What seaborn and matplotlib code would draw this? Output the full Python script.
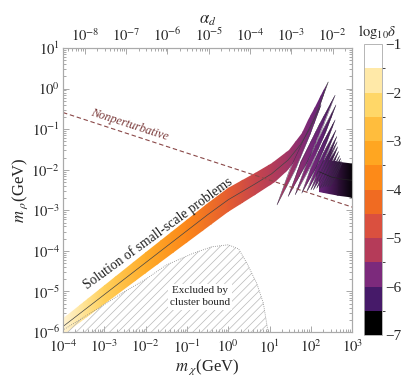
import numpy as np
import matplotlib
matplotlib.use('Agg')
import matplotlib.pyplot as plt
import seaborn as sns
from matplotlib.colors import LinearSegmentedColormap, ListedColormap, BoundaryNorm, Normalize
from matplotlib.patches import Polygon
from matplotlib.cm import ScalarMappable

# legend steps of log10(delta), from -7 up to -1
delta_levels = [-7, -6.5, -6, -5.5, -5, -4.5, -4, -3.5, -3, -2.5, -2, -1.5, -1]
delta_colors = ['#000000', '#461a69', '#7c2a7c', '#b53b59', '#da503f', '#f06b22',
                '#fd8a18', '#ffa621', '#ffbd3d', '#ffd768', '#ffe9a8', '#ffffff']

# log10(delta) read along the band, as function of log10 m_chi
delta_x = [-4.3, -4.0, -3.5, -3.0, -2.0, -1.0, 0.0, 0.65, 1.4, 2.0, 2.3, 3.0, 3.2]
delta_v = [-1.4, -1.5, -1.9, -2.4, -3.1, -3.8, -4.5, -5.0, -5.4, -5.8, -6.0, -6.7, -6.8]

# main band (log10 m_chi, log10 m_rho): upper edge up to the big spike tip
band_up_x = [-4.3, -2.0, -0.5, 0.0, 0.65, 1.05, 1.46, 1.78, 1.94, 2.10, 2.26, 2.42]
band_up_y = [-5.91, -4.03, -2.83, -2.45, -2.07, -1.84, -1.51, -1.10, -0.77, -0.45, -0.12, 0.16]
# ... and back down along the lower edge
band_lo_x = [2.42, 2.30, 2.17, 1.93, 1.69, 1.45, 1.13, 0.65, 0.0, -2.0, -4.3]
band_lo_y = [0.16, -0.20, -0.60, -1.19, -1.68, -2.00, -2.30, -2.62, -3.04, -4.55, -6.29]

# central curve of the band
mid_x = [-4.3, -2.0, -0.5, 0.0, 0.65, 1.05, 1.45, 1.75, 2.0, 2.2, 2.42]
mid_y = [-6.1, -4.29, -3.11, -2.74, -2.35, -2.10, -1.76, -1.38, -0.95, -0.45, 0.16]

# resonance spikes: lower tip, upper tip, half width
spike_lo_x = [1.18, 1.45, 1.62, 1.78, 1.90, 2.00, 2.06, 2.14, 2.22, 2.28, 2.34, 2.40, 2.46]
spike_lo_y = [-2.87, -2.66, -2.62, -2.58, -2.54, -2.50, -2.50, -2.46, -2.46, -2.44, -2.42, -2.42, -2.42]
spike_hi_x = [2.25, 2.59, 2.61, 2.59, 2.61, 2.63, 2.64, 2.65, 2.67, 2.70, 2.72, 2.74, 2.76]
spike_hi_y = [-0.40, -0.16, -0.40, -0.77, -1.02, -1.18, -1.31, -1.43, -1.55, -1.65, -1.72, -1.78, -1.82]
spike_w = [0.07, 0.08, 0.07, 0.06, 0.055, 0.05, 0.045, 0.04, 0.035, 0.03, 0.03, 0.025, 0.025]

# heavy dark block at large m_chi
blk_x = [2.2, 2.45, 2.7, 2.9, 3.1, 3.1, 2.9, 2.7, 2.45, 2.2]
blk_y = [-1.78, -1.76, -1.80, -1.84, -1.87, -2.72, -2.68, -2.64, -2.60, -2.56]
blk_mid_x = [2.2, 2.5, 2.8, 3.1]
blk_mid_y = [-2.05, -2.18, -2.24, -2.27]

# cluster bound (excluded below)
clu_x = [-4.3, -4.0, -3.2, -2.5, -2.0, -1.5, -0.85, -0.4, 0.0, 0.25, 0.45, 0.69, 0.85, 0.97, 0.98, -4.3]
clu_y = [-6.17, -5.95, -5.45, -5.0, -4.7, -4.35, -4.06, -3.9, -3.85, -3.95, -4.3, -4.8, -5.29, -6.03, -6.3, -6.3]

# nonperturbative line
npt_x = [-4.0, 3.0]
npt_y = [-0.59, -2.92]

x_exps = list(range(-4, 4))
y_exps = list(range(-6, 2))
alpha_exps = list(range(-8, -1))
alpha_shift = 4.53   # log10 m_chi where alpha_d = 1 on the top axis

sns.set_style('ticks')
plt.rcParams['font.family'] = ['Liberation Serif', 'DejaVu Serif']
plt.rcParams['mathtext.fontset'] = 'stix'
plt.rcParams['hatch.linewidth'] = 0.5

fig = plt.figure(figsize=(4.09, 3.87), dpi=100)
ax = fig.add_axes([0.154, 0.142, 0.707, 0.734])

pos = [0.0] + [(l + 0.25 + 7) / 6 for l in delta_levels[:-1]] + [1.0]
cols = [delta_colors[0]] + delta_colors + [delta_colors[-1]]
smooth = LinearSegmentedColormap.from_list('sun', list(zip(pos, cols)))
norm = Normalize(-7, -1)


def grad_fill(xs, ys, z=3, edge='none'):
    poly = Polygon(np.column_stack([xs, ys]), closed=True, facecolor='none',
                   edgecolor=edge, lw=0.3, zorder=z + 0.5)
    ax.add_patch(poly)
    X, Y = np.meshgrid(delta_x, [-7, 2])
    C = np.vstack([delta_v, delta_v])
    m = ax.pcolormesh(X, Y, C, shading='gouraud', cmap=smooth, norm=norm, zorder=z)
    m.set_clip_path(poly)


grad_fill(band_up_x + band_lo_x, band_up_y + band_lo_y)
grad_fill(blk_x, blk_y)
t = np.array([0, 0.35, 0.7, 1.0])
f = np.array([0, 1.0, 0.7, 0])
for lx, ly, hx, hy, w in zip(spike_lo_x, spike_lo_y, spike_hi_x, spike_hi_y, spike_w):
    sx = lx + t * (hx - lx)
    sy = ly + t * (hy - ly)
    px = list(sx + f * w) + list((sx - f * w)[::-1])
    py = list(sy) + list(sy[::-1])
    grad_fill(px, py, edge='#3a2a48')

sns.lineplot(x=mid_x, y=mid_y, sort=False, estimator=None, ax=ax, color='#444444', lw=0.5, zorder=4.6)
sns.lineplot(x=blk_mid_x, y=blk_mid_y, sort=False, estimator=None, ax=ax, color='#222222', lw=0.5, zorder=4.6)

# excluded region
hat = Polygon(np.column_stack([clu_x, clu_y]), closed=True, facecolor='none',
              edgecolor='#b8b8b8', lw=0, hatch='////', zorder=4)
ax.add_patch(hat)
sns.lineplot(x=clu_x[:14], y=clu_y[:14], sort=False, estimator=None, ax=ax,
             color='#888888', lw=0.6, ls=(0, (1, 1.5)), zorder=4.7)

sns.lineplot(x=npt_x, y=npt_y, sort=False, estimator=None, ax=ax, color='#8a4848',
             lw=0.8, ls=(0, (4, 2.5)), zorder=5)

ax.text(-2.38, -0.90, 'Nonperturbative', rotation=-18, ha='center', va='center',
        fontsize=8.8, style='italic', color='#7a3a3a', zorder=6)
ax.text(-1.6, -3.70, 'Solution of small-scale problems', rotation=36, ha='center', va='bottom',
        rotation_mode='anchor', fontsize=9.8, color='#222222', zorder=6)
ax.text(-0.68, -5.13, 'Excluded by\ncluster bound', ha='center', va='center', fontsize=8,
        linespacing=1.5, color='#222222', zorder=6,
        bbox=dict(facecolor='white', edgecolor='none', pad=1.5))

ax.set_xlim(-4, 3)
ax.set_ylim(-6, 1)
ax.set_xticks(x_exps)
ax.set_xticklabels([rf'$10^{{{k}}}$' for k in x_exps])
ax.set_yticks(y_exps)
ax.set_yticklabels([rf'$10^{{{k}}}$' for k in y_exps])
ax.set_xticks([k + np.log10(m) for k in x_exps[:-1] for m in range(2, 10)], minor=True)
ax.set_yticks([k + np.log10(m) for k in y_exps[:-1] for m in range(2, 10)], minor=True)
ax.tick_params(which='both', direction='in', color='#9a9a9a', width=0.6, labelsize=10.5,
               right=True, top=False, pad=2)
ax.tick_params(axis='x', which='both', pad=4.5)
ax.tick_params(which='major', length=4)
ax.tick_params(which='minor', length=2)
for s in ax.spines.values():
    s.set_color('#aaaaaa')
    s.set_linewidth(0.8)
ax.set_xlabel(r'$m_{\ \chi}$(GeV)', fontsize=12, labelpad=1)
ax.set_ylabel(r'$m_{\ \rho}$(GeV)', fontsize=12, labelpad=1)

top = ax.twiny()
top.set_xlim(-4, 3)
top.set_xticks([e + alpha_shift for e in alpha_exps])
top.set_xticklabels([rf'$10^{{{e}}}$' for e in alpha_exps])
top.set_xticks([e + alpha_shift + np.log10(m) for e in range(-9, -1) for m in range(2, 10)
                if -4 < e + alpha_shift + np.log10(m) < 3], minor=True)
top.tick_params(which='both', direction='in', color='#9a9a9a', width=0.6, labelsize=10.5, pad=3)
top.tick_params(which='major', length=4)
top.tick_params(which='minor', length=2)
for s in top.spines.values():
    s.set_color('#aaaaaa')
    s.set_linewidth(0.8)
top.set_xlabel(r'$\alpha_d$', fontsize=12, labelpad=2)

cax = fig.add_axes([0.890, 0.134, 0.044, 0.752])
sm = ScalarMappable(norm=BoundaryNorm(delta_levels, 12), cmap=ListedColormap(delta_colors))
cb = fig.colorbar(sm, cax=cax, ticks=list(range(-1, -8, -1)))
cb.ax.set_yticklabels(['\u2212%d' % k for k in range(1, 8)])
cb.outline.set_edgecolor('#aaaaaa')
cb.outline.set_linewidth(0.6)
cax.tick_params(length=0, labelsize=11, pad=2)
fig.text(0.922, 0.918, r'$\log_{10}\!\delta$', ha='center', va='center', fontsize=10.5)

fig.savefig('out.png', dpi=100)
